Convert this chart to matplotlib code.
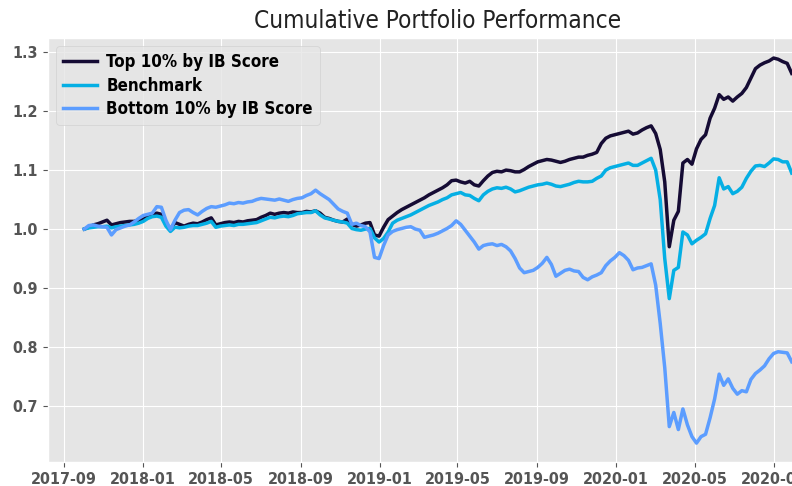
import numpy as np
import pandas as pd
import matplotlib
matplotlib.use("Agg")
import matplotlib.pyplot as plt
import matplotlib.dates as mdates

# weekly observations, first Monday of Oct 2017 onwards
dates = pd.date_range("2017-10-02", periods=157, freq="W-MON")

top = [
    1.000, 1.003, 1.007, 1.009, 1.012, 1.015, 1.007, 1.009, 1.011, 1.012,
    1.013, 1.013, 1.015, 1.016, 1.022, 1.025, 1.027, 1.025, 1.010, 1.000,
    1.011, 1.008, 1.005, 1.008, 1.010, 1.009, 1.012, 1.016, 1.019, 1.007,
    1.009, 1.011, 1.012, 1.011, 1.013, 1.012, 1.014, 1.015, 1.016, 1.020,
    1.023, 1.027, 1.025, 1.027, 1.028, 1.027, 1.029, 1.028, 1.028, 1.030,
    1.029, 1.031, 1.027, 1.020, 1.018, 1.015, 1.013, 1.012, 1.017, 1.008,
    1.005, 1.007, 1.010, 1.011, 0.990, 0.988, 1.003, 1.016, 1.022, 1.028,
    1.033, 1.037, 1.041, 1.045, 1.049, 1.053, 1.058, 1.062, 1.066, 1.070,
    1.075, 1.082, 1.083, 1.080, 1.078, 1.081, 1.075, 1.073, 1.082, 1.090,
    1.096, 1.098, 1.097, 1.100, 1.099, 1.097, 1.097, 1.101, 1.106, 1.110,
    1.114, 1.116, 1.118, 1.117, 1.115, 1.113, 1.115, 1.118, 1.120, 1.122,
    1.122, 1.125, 1.127, 1.130, 1.145, 1.154, 1.158, 1.160, 1.162, 1.164,
    1.166, 1.161, 1.163, 1.168, 1.172, 1.175, 1.162, 1.135, 1.080, 0.970,
    1.015, 1.030, 1.112, 1.118, 1.110, 1.136, 1.152, 1.160, 1.188, 1.205,
    1.228, 1.220, 1.224, 1.217, 1.224, 1.230, 1.240, 1.256, 1.272, 1.278,
    1.282, 1.285, 1.290, 1.288, 1.284, 1.281, 1.264,
]

benchmark = [
    1.000, 1.002, 1.003, 1.004, 1.004, 1.005, 1.002, 1.004, 1.005, 1.006,
    1.007, 1.008, 1.010, 1.013, 1.018, 1.021, 1.022, 1.020, 1.005, 0.996,
    1.003, 1.002, 1.003, 1.005, 1.006, 1.006, 1.008, 1.010, 1.013, 1.003,
    1.005, 1.006, 1.007, 1.006, 1.008, 1.008, 1.009, 1.010, 1.011, 1.014,
    1.017, 1.020, 1.019, 1.021, 1.022, 1.021, 1.023, 1.026, 1.027, 1.028,
    1.028, 1.031, 1.024, 1.019, 1.017, 1.015, 1.013, 1.012, 1.010, 1.001,
    0.999, 0.998, 1.000, 1.001, 0.985, 0.978, 0.984, 0.995, 1.010, 1.015,
    1.018, 1.021, 1.024, 1.028, 1.032, 1.036, 1.040, 1.043, 1.046, 1.050,
    1.053, 1.058, 1.060, 1.062, 1.058, 1.057, 1.052, 1.048, 1.058, 1.064,
    1.068, 1.070, 1.069, 1.071, 1.068, 1.063, 1.065, 1.068, 1.071, 1.073,
    1.075, 1.076, 1.078, 1.076, 1.073, 1.072, 1.074, 1.076, 1.079, 1.081,
    1.080, 1.080, 1.081, 1.086, 1.090, 1.100, 1.104, 1.106, 1.108, 1.110,
    1.112, 1.108, 1.108, 1.112, 1.116, 1.120, 1.100, 1.050, 0.950, 0.882,
    0.930, 0.935, 0.995, 0.990, 0.975, 0.981, 0.986, 0.992, 1.018, 1.040,
    1.087, 1.068, 1.072, 1.060, 1.064, 1.071, 1.086, 1.098, 1.107, 1.108,
    1.106, 1.112, 1.119, 1.118, 1.114, 1.114, 1.095,
]

bottom = [
    1.000, 1.006, 1.007, 1.005, 1.004, 1.003, 0.990, 0.999, 1.002, 1.005,
    1.007, 1.012, 1.018, 1.023, 1.025, 1.027, 1.038, 1.037, 1.015, 0.999,
    1.015, 1.028, 1.032, 1.033, 1.028, 1.024, 1.030, 1.035, 1.038, 1.037,
    1.039, 1.041, 1.044, 1.043, 1.045, 1.044, 1.046, 1.047, 1.050, 1.052,
    1.051, 1.050, 1.049, 1.051, 1.049, 1.047, 1.050, 1.052, 1.053, 1.057,
    1.060, 1.066, 1.060, 1.055, 1.050, 1.042, 1.034, 1.030, 1.027, 1.008,
    1.010, 1.006, 1.004, 0.995, 0.952, 0.950, 0.972, 0.990, 0.996, 0.999,
    1.001, 1.003, 1.004, 1.000, 0.998, 0.986, 0.988, 0.990, 0.993, 0.997,
    1.001, 1.006, 1.014, 1.008, 0.998, 0.988, 0.978, 0.966, 0.972, 0.974,
    0.975, 0.972, 0.974, 0.970, 0.963, 0.950, 0.934, 0.926, 0.928, 0.930,
    0.935, 0.942, 0.952, 0.940, 0.920, 0.925, 0.930, 0.932, 0.929, 0.928,
    0.918, 0.914, 0.919, 0.922, 0.926, 0.938, 0.946, 0.952, 0.960, 0.955,
    0.947, 0.931, 0.934, 0.935, 0.938, 0.941, 0.905, 0.840, 0.765, 0.665,
    0.689, 0.660, 0.695, 0.668, 0.648, 0.637, 0.648, 0.652, 0.680, 0.712,
    0.754, 0.735, 0.746, 0.730, 0.720, 0.726, 0.724, 0.745, 0.755, 0.761,
    0.768, 0.780, 0.789, 0.792, 0.791, 0.790, 0.775,
]

plt.style.use("ggplot")

fig = plt.figure(figsize=(7.92, 4.86), dpi=100)
ax = fig.add_axes([48 / 792, 24 / 486, 780 / 792, 424 / 486])

ax.plot(dates, top, color="#150b34", lw=2.5, label="Top 10% by IB Score")
ax.plot(dates, benchmark, color="#05afe4", lw=2.5, label="Benchmark")
ax.plot(dates, bottom, color="#5c9dff", lw=2.5, label="Bottom 10% by IB Score")

ax.set_xlim(pd.Timestamp("2017-08-07"), pd.Timestamp("2020-11-23"))
ax.set_ylim(0.605, 1.324)
ax.xaxis.set_major_locator(mdates.MonthLocator(bymonth=[1, 5, 9]))
ax.xaxis.set_major_formatter(mdates.DateFormatter("%Y-%m"))

for lbl in ax.get_xticklabels() + ax.get_yticklabels():
    lbl.set_fontweight("bold")
    lbl.set_fontsize(11.5)
    lbl.set_fontstretch("condensed")
    lbl.set_color("#555555")

ax.set_title("Cumulative Portfolio Performance", fontsize=17.5, color="#222222",
             fontstretch="condensed", pad=7)
leg = ax.legend(loc="upper left", handletextpad=0.55, labelspacing=0.32,
                prop={"weight": "bold", "size": 12.2, "stretch": "condensed"})
for t in leg.get_texts():
    t.set_color("black")

fig.savefig("out.png", dpi=100)
